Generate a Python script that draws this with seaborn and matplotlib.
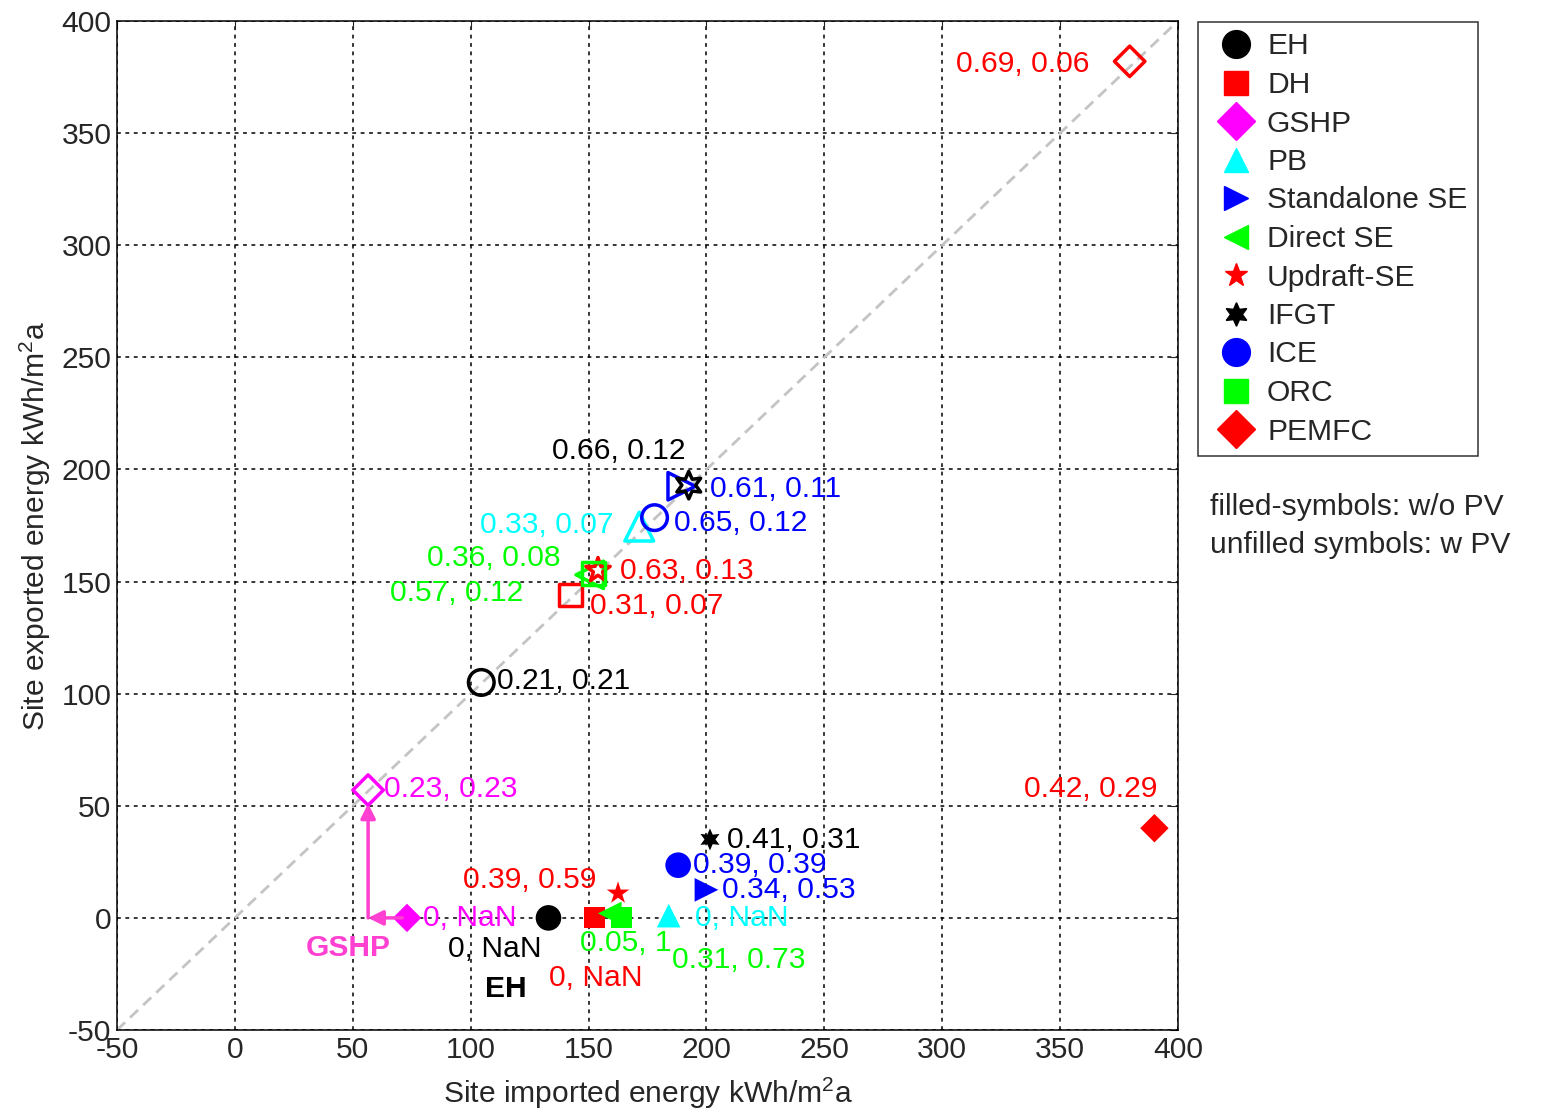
import numpy as np
import pandas as pd
import matplotlib.pyplot as plt
from matplotlib.lines import Line2D
import seaborn as sns

# technologies, imported / exported site energy (kWh/m2a)
techs = ['EH', 'DH', 'GSHP', 'PB', 'Standalone SE', 'Direct SE',
         'Updraft-SE', 'IFGT', 'ICE', 'ORC', 'PEMFC']
imp_nopv = [133, 152.5, 73, 184, 200, 159, 162.5, 201.5, 188, 164, 390]
exp_nopv = [0, 0, 0, 1, 12.5, 2, 11, 35, 23.5, 0, 40]
imp_pv = [104.5, 142.5, 56.5, 171.5, 189.5, 150.5, 154, 192.5, 178, 152, 379.5]
exp_pv = [105, 144, 57, 174.5, 192.5, 153, 155, 193, 178.5, 153.5, 382]

# value labels: text, x, y, colour
labels = [
    ('0.66, 0.12', 134.3, 208.4, 'black'),
    ('0.61, 0.11', 201.5, 191.2, 'blue'),
    ('0.33, 0.07', 104, 175.3, 'cyan'),
    ('0.65, 0.12', 186.2, 176, 'blue'),
    ('0.36, 0.08', 81.6, 160.4, 'lime'),
    ('0.63, 0.13', 163.3, 154.5, 'red'),
    ('0.57, 0.12', 65.8, 144.8, 'lime'),
    ('0.31, 0.07', 150.8, 138.9, 'red'),
    ('0.21, 0.21', 111, 105.7, 'black'),
    ('0.23, 0.23', 63.2, 57.5, 'magenta'),
    ('0.69, 0.06', 306, 381, 'red'),
    ('0.42, 0.29', 334.6, 57.4, 'red'),
    ('0.41, 0.31', 208.7, 34.8, 'black'),
    ('0.39, 0.39', 194.3, 23.6, 'blue'),
    ('0.34, 0.53', 206.6, 12.5, 'blue'),
    ('0.39, 0.59', 96.7, 17, 'red'),
    ('0, NaN', 79.8, 0, 'magenta'),
    ('0, NaN', 195.1, 0, 'cyan'),
    ('0, NaN', 90.4, -13.8, 'black'),
    ('0.05, 1', 146.4, -11, 'lime'),
    ('0.31, 0.73', 185.4, -18.7, 'lime'),
    ('0, NaN', 133.2, -26.8, 'red'),
]

colors = {'EH': 'black', 'DH': 'red', 'GSHP': 'magenta', 'PB': 'cyan',
          'Standalone SE': 'blue', 'Direct SE': 'lime', 'Updraft-SE': 'red',
          'IFGT': 'black', 'ICE': 'blue', 'ORC': 'lime', 'PEMFC': 'red'}
markers = {'EH': 'o', 'DH': 's', 'GSHP': 'D', 'PB': '^', 'Standalone SE': '>',
           'Direct SE': '<', 'Updraft-SE': '*', 'IFGT': (6, 1, 0), 'ICE': 'o',
           'ORC': 's', 'PEMFC': 'D'}
sizes_f = {'EH': 340, 'DH': 230, 'GSHP': 210, 'PB': 290, 'Standalone SE': 290,
           'Direct SE': 290, 'Updraft-SE': 290, 'IFGT': 250, 'ICE': 340,
           'ORC': 230, 'PEMFC': 210}
sizes_u = {'EH': 340, 'DH': 270, 'GSHP': 240, 'PB': 430, 'Standalone SE': 390,
           'Direct SE': 390, 'Updraft-SE': 340, 'IFGT': 390, 'ICE': 340,
           'ORC': 270, 'PEMFC': 240}

FS = 21.6
sns.set_style('white')
plt.rcParams['font.family'] = ['Liberation Sans', 'DejaVu Sans']
plt.rcParams['font.size'] = FS
plt.rcParams['axes.unicode_minus'] = False

df_nopv = pd.DataFrame({'tech': techs, 'imp': imp_nopv, 'exp': exp_nopv})
df_pv = pd.DataFrame({'tech': techs, 'imp': imp_pv, 'exp': exp_pv})

fig = plt.figure(figsize=(15.42, 11.08), dpi=100)
ax = fig.add_axes([117 / 1542, 1 - 1030 / 1108, 1061 / 1542, 1009 / 1108])

ax.set_xlim(-50, 400)
ax.set_ylim(-50, 400)
ax.set_xticks(np.arange(-50, 401, 50))
ax.set_yticks(np.arange(-50, 401, 50))
ax.grid(True, color='black', linestyle=(0, (2.5, 3)), linewidth=1.1)
ax.set_axisbelow(True)
ax.tick_params(direction='in', top=True, right=True, length=6, labelsize=FS, pad=4)
for sp in ax.spines.values():
    sp.set_color('black')
    sp.set_linewidth(1.1)

# y = x reference
ax.plot([-50, 400], [-50, 400], color='#c4c4c4', linestyle=(0, (4, 2.5)), linewidth=2, zorder=2)

# filled symbols: without PV
sns.scatterplot(data=df_nopv, x='imp', y='exp', hue='tech', style='tech', size='tech',
                palette=colors, markers=markers, sizes=sizes_f, linewidth=0,
                legend=False, ax=ax, zorder=3)

# unfilled symbols: with PV
for t, xv, yv in zip(df_pv['tech'], df_pv['imp'], df_pv['exp']):
    ax.scatter(xv, yv, marker=markers[t], s=sizes_u[t], facecolors='none',
               edgecolors=colors[t], linewidths=2.5, zorder=3)

for txt, xv, yv, c in labels:
    ax.text(xv, yv, txt, color=c, fontsize=FS, ha='left', va='center', zorder=4)

# GSHP arrows
arrow_c = '#ff40d0'
ax.annotate('', xy=(56.5, 0), xytext=(71, 0),
            arrowprops=dict(arrowstyle='-|>', color=arrow_c, lw=2.5, mutation_scale=22,
                            shrinkA=0, shrinkB=0), zorder=3)
ax.annotate('', xy=(56.5, 51), xytext=(56.5, 0),
            arrowprops=dict(arrowstyle='-|>', color=arrow_c, lw=2.5, mutation_scale=22,
                            shrinkA=0, shrinkB=0), zorder=3)
ax.text(30.2, -13.4, 'GSHP', color=arrow_c, fontsize=FS, fontweight='bold', va='center')
ax.text(106.1, -31.7, 'EH', color='black', fontsize=FS, fontweight='bold', va='center')

ax.set_xlabel(r'Site imported energy kWh/m$^\mathregular{2}$a', fontsize=FS, labelpad=8)
ax.set_ylabel(r'Site exported energy kWh/m$^\mathregular{2}$a', fontsize=FS, labelpad=6)

handles = [Line2D([], [], linestyle='none', marker=markers[t], color=colors[t],
                  markeredgecolor=colors[t],
                  markersize=20 if markers[t] == 'o' else (19 if markers[t] == 'D' else 17))
           for t in techs]
leg = fig.legend(handles, techs, loc='upper left', bbox_to_anchor=(1198 / 1542, 1 - 22 / 1108),
                 borderaxespad=0, fontsize=FS, frameon=True, fancybox=False, edgecolor='black',
                 labelspacing=0.35, handletextpad=0.15, borderpad=0.35, handlelength=1.8)
leg.get_frame().set_linewidth(1.1)

fig.text(1210 / 1542, 1 - 507 / 1108, 'filled-symbols: w/o PV', fontsize=FS, va='center')
fig.text(1210 / 1542, 1 - 545 / 1108, 'unfilled symbols: w PV', fontsize=FS, va='center')

fig.savefig('out.png', dpi=100, facecolor='white')
